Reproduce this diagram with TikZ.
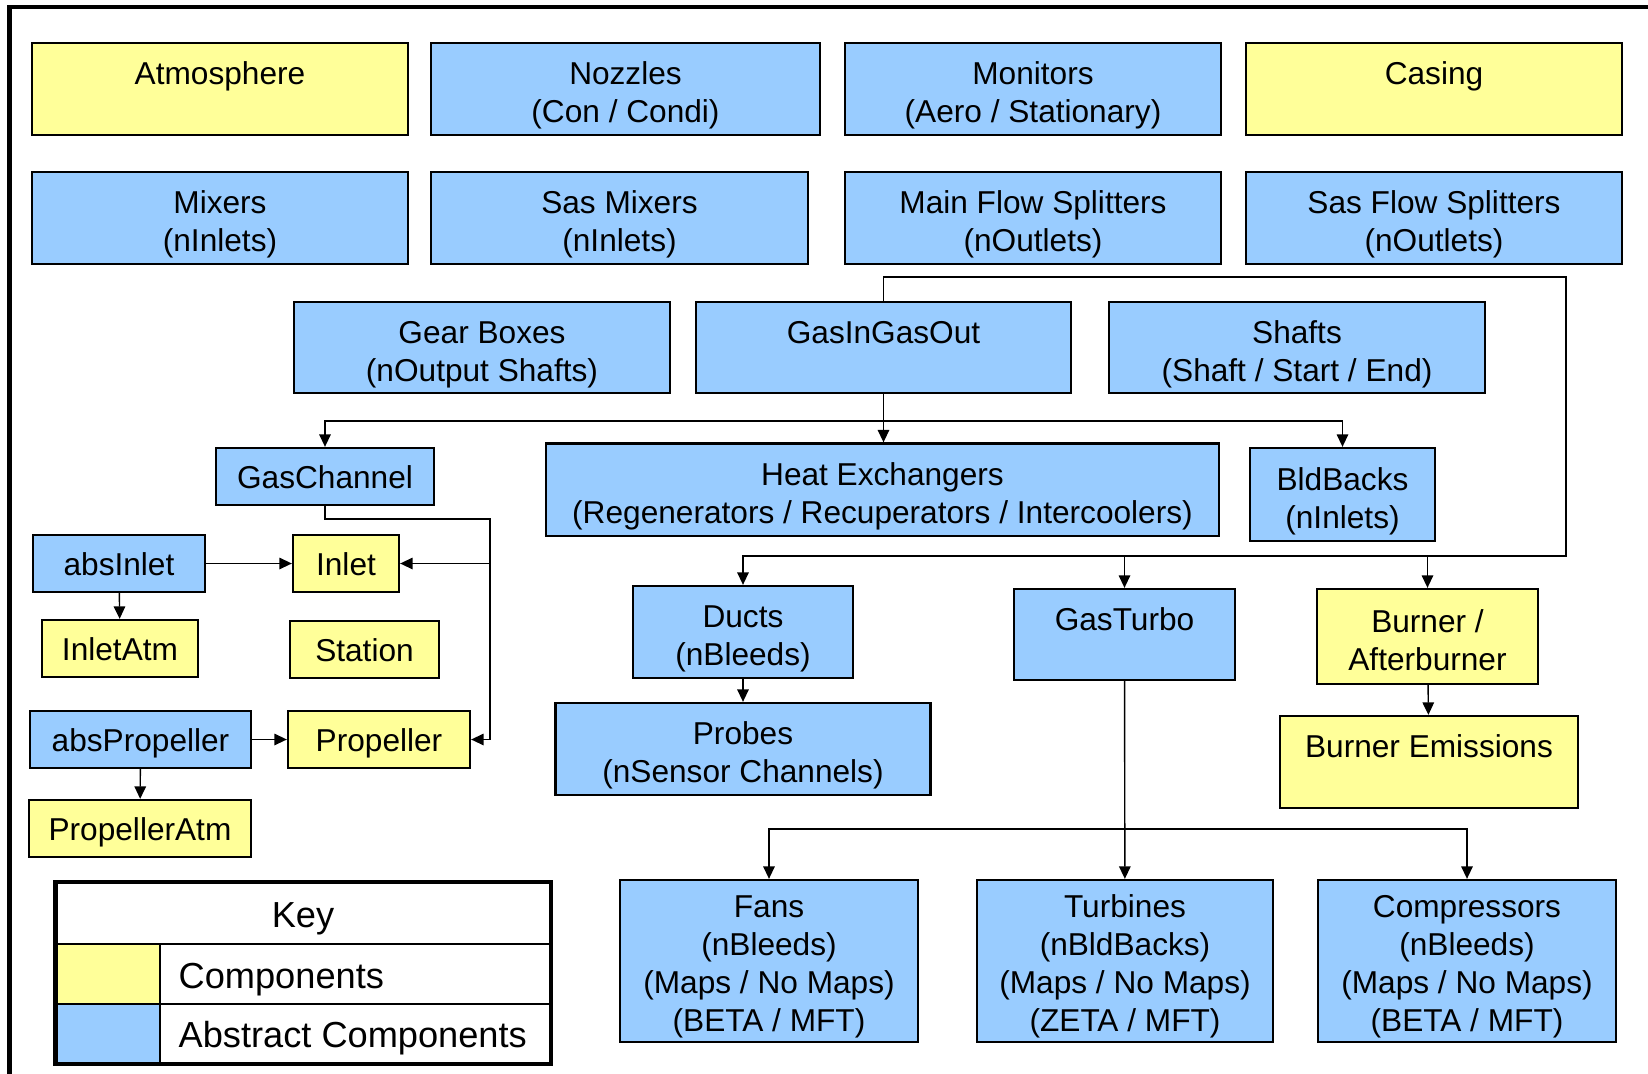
\documentclass[tikz,border=0pt]{standalone}
\usepackage{fontspec}
\setmainfont{Liberation Sans}
\usetikzlibrary{arrows.meta}

\definecolor{compyellow}{HTML}{FFFF99}
\definecolor{absblue}{HTML}{99CCFF}
\newcommand\boxfont{\fontsize{9}{10.8}\selectfont}
\newcommand\keyfont{\fontsize{10.3}{12}\selectfont}

\begin{document}
\begin{tikzpicture}
  [x=1mm,y=-1mm,
   box/.style={draw,line width=0.65pt,align=center,inner sep=0pt,font=\boxfont,
     text height=3.3mm,text depth=0.9mm},
   two/.style={text height=7.6mm},
   four/.style={text height=15.0mm},
   sz/.style 2 args={minimum width=#1mm,minimum height=#2mm},
   cmp/.style={box,fill=compyellow},
   acmp/.style={box,fill=absblue},
   keytext/.style={font=\keyfont,inner sep=0pt},
   arr/.style={-{Triangle[length=1.25mm,width=1.15mm]},line width=0.4pt}]
  \useasboundingbox (0,0) rectangle (164.8,107.4);

  % frame
  \draw[line width=1.3pt] (0.95,107.4) -- (0.95,0.7) -- (164.8,0.7);

  % top rows
  \node[cmp,two,sz={37.6}{9.2}]  (atm)    at (22.0,8.9)   {Atmosphere\\~};
  \node[acmp,two,sz={38.9}{9.2}] (noz)    at (62.55,8.9)  {Nozzles\\(Con / Condi)};
  \node[acmp,two,sz={37.6}{9.2}] (mon)    at (103.3,8.9)  {Monitors\\(Aero / Stationary)};
  \node[cmp,two,sz={37.6}{9.2}]  (casing) at (143.4,8.9)  {Casing\\~};

  \node[acmp,two,sz={37.6}{9.2}] (mix)    at (22.0,21.8)  {Mixers\\(nInlets)};
  \node[acmp,two,sz={37.7}{9.2}] (sasmix) at (61.95,21.8) {Sas Mixers\\(nInlets)};
  \node[acmp,two,sz={37.6}{9.2}] (mfs)    at (103.3,21.8) {Main Flow Splitters\\(nOutlets)};
  \node[acmp,two,sz={37.6}{9.2}] (sfs)    at (143.4,21.8) {Sas Flow Splitters\\(nOutlets)};

  \node[acmp,two,sz={37.6}{9.1}] (gear)   at (48.2,34.75)  {Gear Boxes\\(nOutput Shafts)};
  \node[acmp,two,sz={37.5}{9.1}] (gigo)   at (88.35,34.75) {GasInGasOut\\~};
  \node[acmp,two,sz={37.6}{9.1}] (shafts) at (129.7,34.75) {Shafts\\(Shaft / Start / End)};

  \node[acmp,sz={21.8}{5.7}]      (gaschan) at (32.5,47.65)   {GasChannel};
  \node[acmp,two,sz={67.3}{9.25}] (heatex)  at (88.25,48.975) {Heat Exchangers\\(Regenerators / Recuperators / Intercoolers)};
  \node[acmp,two,sz={18.5}{9.3}]  (bld)     at (134.25,49.45) {BldBacks\\(nInlets)};

  % gas channel family
  \node[acmp,sz={17.2}{5.7}] (absinlet) at (11.9,56.35)  {absInlet};
  \node[cmp,sz={10.6}{5.7}]  (inlet)    at (34.6,56.35)  {Inlet};
  \node[cmp,sz={15.6}{5.7}]  (inletatm) at (12.0,64.85)  {InletAtm};
  \node[cmp,sz={14.9}{5.7}]  (station)  at (36.45,64.95) {Station};
  \node[acmp,sz={22.1}{5.7}] (absprop)  at (14.05,73.95) {absPropeller};
  \node[cmp,sz={18.2}{5.7}]  (prop)     at (37.9,73.95)  {Propeller};
  \node[cmp,sz={22.2}{5.7}]  (propatm)  at (14.0,82.85)  {PropellerAtm};

  % gas in / gas out family
  \node[acmp,two,sz={22.0}{9.2}] (ducts)    at (74.3,63.2)    {Ducts\\(nBleeds)};
  \node[acmp,two,sz={37.5}{9.2}] (probes)   at (74.3,74.9)    {Probes\\(nSensor Channels)};
  \node[acmp,two,sz={22.1}{9.1}] (gasturbo) at (112.45,63.45) {GasTurbo\\~};
  \node[cmp,two,sz={22.1}{9.5}]  (burner)   at (142.75,63.65) {Burner /\\Afterburner};
  \node[cmp,two,sz={29.8}{9.2}]  (emis)     at (142.9,76.2)   {Burner Emissions\\~};

  \node[acmp,four,sz={29.8}{16.2}] (fans) at (76.9,96.1)  {Fans\\(nBleeds)\\(Maps / No Maps)\\(BETA / MFT)};
  \node[acmp,four,sz={29.6}{16.2}] (turb) at (112.5,96.1) {Turbines\\(nBldBacks)\\(Maps / No Maps)\\(ZETA / MFT)};
  \node[acmp,four,sz={29.8}{16.2}] (comp) at (146.7,96.1) {Compressors\\(nBleeds)\\(Maps / No Maps)\\(BETA / MFT)};

  % connectors
  \foreach \from/\to in {absinlet/inlet,absinlet/inletatm,absprop/prop,absprop/propatm,
                         ducts/probes,burner/emis,gasturbo/turb}
    \draw[arr] (\from) -- (\to);

  \coordinate (hub) at (88.35,42.1);
  \draw[arr] (gigo.south) -- (gigo.south |- heatex.north);
  \draw[arr] (hub) -| (gaschan.north);
  \draw[arr] (hub) -| (bld.north);

  \coordinate (gcbend) at (49.0,51.9);
  \draw[arr] (gaschan.south) |- (gcbend) |- (prop.east);
  \draw[arr] (gcbend |- inlet.east) -- (inlet.east);

  \coordinate (looptop) at (156.6,27.7);
  \coordinate (loopbot) at (156.6,55.6);
  \draw[arr] (gigo.north) |- (looptop) -- (loopbot) -| (ducts.north);
  \draw[arr] (gasturbo.north |- loopbot) -- (gasturbo.north);
  \draw[arr] (burner.north |- loopbot) -- (burner.north);

  \coordinate (split) at (112.5,82.9);
  \draw[arr] (split) -| (fans.north);
  \draw[arr] (split) -| (comp.north);

  % key
  \fill[compyellow] (5.55,94.4) rectangle (16.0,100.4);
  \fill[absblue] (5.55,100.4) rectangle (16.0,106.4);
  \draw[line width=0.6pt] (5.55,94.4) -- (55.1,94.4) (5.55,100.4) -- (55.1,100.4)
    (16.0,94.4) -- (16.0,106.4);
  \draw[line width=1.3pt] (5.55,88.2) rectangle (55.1,106.4);
  \node[keytext] (keyhead) at (30.3,91.9) {Key};
  \node[keytext,anchor=west] (keycmp) at (17.8,98.0) {Components};
  \node[keytext,anchor=west] (keyacmp) at (17.8,103.8) {Abstract Components};
\end{tikzpicture}
\end{document}
